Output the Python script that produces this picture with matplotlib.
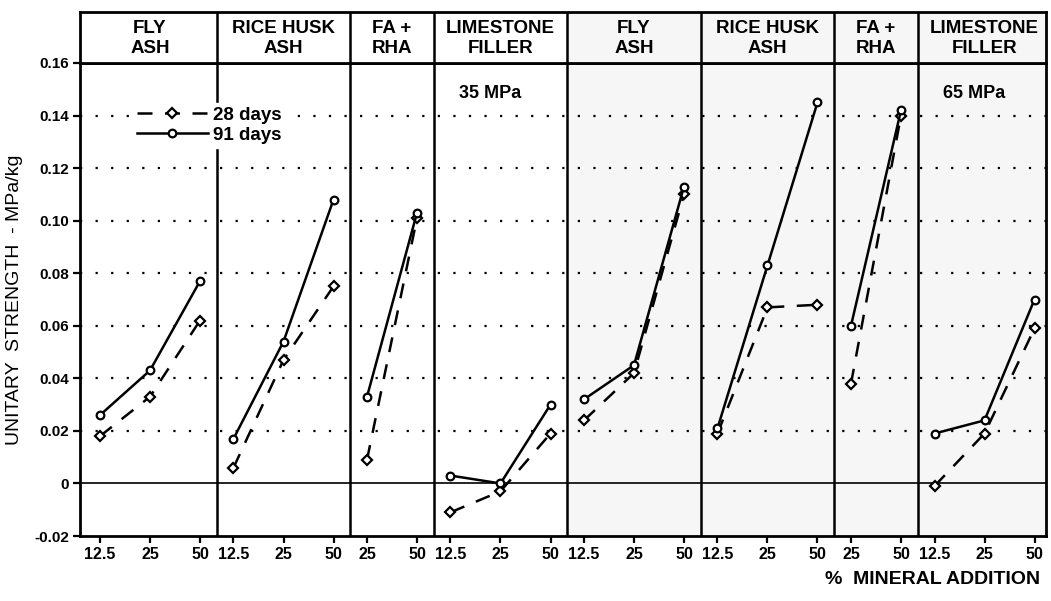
import numpy as np
import matplotlib.pyplot as plt

plt.rcParams['font.family'] = ['Liberation Sans', 'DejaVu Sans']

# panels: mineral addition type, repeated for 35 MPa and 65 MPa mixes
panels = ['FLY\nASH', 'RICE HUSK\nASH', 'FA +\nRHA', 'LIMESTONE\nFILLER'] * 2
doses = [['12.5', '25', '50'], ['12.5', '25', '50'], ['25', '50'], ['12.5', '25', '50']] * 2

# unitary strength (MPa/kg)
days28 = [
    [0.018, 0.033, 0.062],
    [0.006, 0.047, 0.075],
    [0.009, 0.101],
    [-0.011, -0.003, 0.019],
    [0.024, 0.042, 0.110],
    [0.019, 0.067, 0.068],
    [0.038, 0.140],
    [-0.001, 0.019, 0.059],
]
days91 = [
    [0.026, 0.043, 0.077],
    [0.017, 0.054, 0.108],
    [0.033, 0.103],
    [0.003, 0.000, 0.030],
    [0.032, 0.045, 0.113],
    [0.021, 0.083, 0.145],
    [0.060, 0.142],
    [0.019, 0.024, 0.070],
]
strength_class = ['35 MPa', '65 MPa']

W, H = 1051, 601
fig = plt.figure(figsize=(W / 100, H / 100), dpi=100)
ax = fig.add_axes([80 / W, (H - 536) / H, 966 / W, 473 / H])
hx = fig.add_axes([80 / W, (H - 63) / H, 966 / W, 51 / H])

gap = 0.67
pos = 0.4
xs, seps = [], []
for d in doses:
    x = pos + np.arange(len(d))
    xs.append(x)
    pos = x[-1] + gap
    seps.append(x[-1] + gap / 2)
seps = seps[:-1]
xmax = xs[-1][-1] + 0.23

for a in (ax, hx):
    a.set_xlim(0, xmax)
    a.axvspan(seps[3], xmax, color='#f6f6f6', zorder=0)
    for s in seps:
        a.axvline(s, color='black', lw=1.8, zorder=1)
    for sp in a.spines.values():
        sp.set_linewidth(2)

# grid and zero line
for g in np.arange(0.02, 0.15, 0.02):
    ax.axhline(g, color='black', lw=1.6, ls=(0, (1, 6)), zorder=1)
ax.axhline(0, color='black', lw=1.2, zorder=1)

for i in range(len(panels)):
    l28, = ax.plot(xs[i], days28[i], color='black', lw=1.8, dashes=(6, 5),
                   marker='D', ms=5, mfc='white', mew=1.6, zorder=3)
    l91, = ax.plot(xs[i], days91[i], color='black', lw=1.8,
                   marker='o', ms=5.5, mfc='white', mew=1.6, zorder=3)
    hx.text(xs[i].mean(), 0.48, panels[i], ha='center', va='center',
            fontsize=13.5, fontweight='bold', linespacing=1.25)

for k, c in enumerate(strength_class):
    p = 3 + 4 * k
    ax.text(xs[p][1] - 0.2, 0.1485, c, ha='center', va='center',
            fontsize=13, fontweight='bold')

leg = ax.legend([l28, l91], ['28 days', '91 days'], loc='upper left',
                bbox_to_anchor=(0.045, 0.935), frameon=True, framealpha=1,
                edgecolor='white', facecolor='white', handlelength=3.8,
                handletextpad=0.3, borderpad=0.2, labelspacing=0.15,
                prop={'weight': 'bold', 'size': 13.5})
leg.set_zorder(5)

ax.set_ylim(-0.02, 0.16)
yt = np.round(np.arange(-0.02, 0.161, 0.02), 2)
ax.set_yticks(yt)
ax.set_yticklabels(['0' if v == 0 else f'{v:.2f}' for v in yt],
                   fontsize=11, fontweight='bold')
ax.set_xticks(np.concatenate(xs))
ax.set_xticklabels(sum(doses, []), fontsize=11.5, fontweight='bold')
ax.tick_params(length=5, width=1.6, pad=3)
ax.set_ylabel('UNITARY  STRENGTH  - MPa/kg', fontsize=14, labelpad=8)
fig.text(1040 / W, 1 - 580 / H, '%  MINERAL ADDITION', ha='right', va='center',
         fontsize=14, fontweight='bold')

hx.set_ylim(0, 1)
hx.set_xticks([])
hx.set_yticks([])

fig.savefig('out.png', dpi=100)
